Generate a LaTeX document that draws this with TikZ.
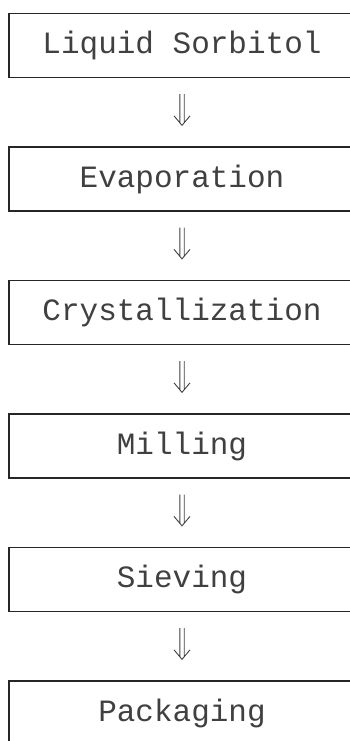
\documentclass[tikz,border=0pt]{standalone}
\usepackage{fontspec}
\setmonofont{Liberation Mono}
\usetikzlibrary{positioning,calc}

\begin{document}
\begin{tikzpicture}[x=1pt,y=-1pt,
                       stage node/.style={rectangle,draw=black!85,line width=1.3pt,
                                          minimum width=346pt,minimum height=64pt,
                                          inner sep=0pt,text=black!75,
                                          font=\ttfamily\fontsize{31}{37}\selectfont},
                       flow/.style={draw=black!75,line width=0.9pt}
                      ]
   \useasboundingbox (0,0) rectangle (350,741);
   \node[stage node] (liquid)  at (182,45.5)  {Liquid Sorbitol};
   \node[stage node] (evap)    at (182,179)   {Evaporation};
   \node[stage node] (cryst)   at (182,312.5) {Crystallization};
   \node[stage node] (mill)    at (182,446)   {Milling};
   \node[stage node] (sieve)   at (182,579.5) {Sieving};
   \node[stage node] (pack)    at (182,713)   {Packaging};

   % double-shafted arrows between the stages
   \foreach \a/\b in {liquid/evap,evap/cryst,cryst/mill,mill/sieve,sieve/pack}{
     \coordinate (tail) at ([yshift=-16pt]\a.south);
     \coordinate (tip)  at ([yshift=21pt]\b.north);
     \draw[flow] ($(tail)+(-2.2,0)$) -- ($(tip)+(-2.2,-2.5)$)
                 ($(tail)+(2.2,0)$)  -- ($(tip)+(2.2,-2.5)$)
                 ($(tip)+(-8,-9.5)$) -- (tip) -- ($(tip)+(8,-9.5)$);
   }
  \end{tikzpicture}
\end{document}
